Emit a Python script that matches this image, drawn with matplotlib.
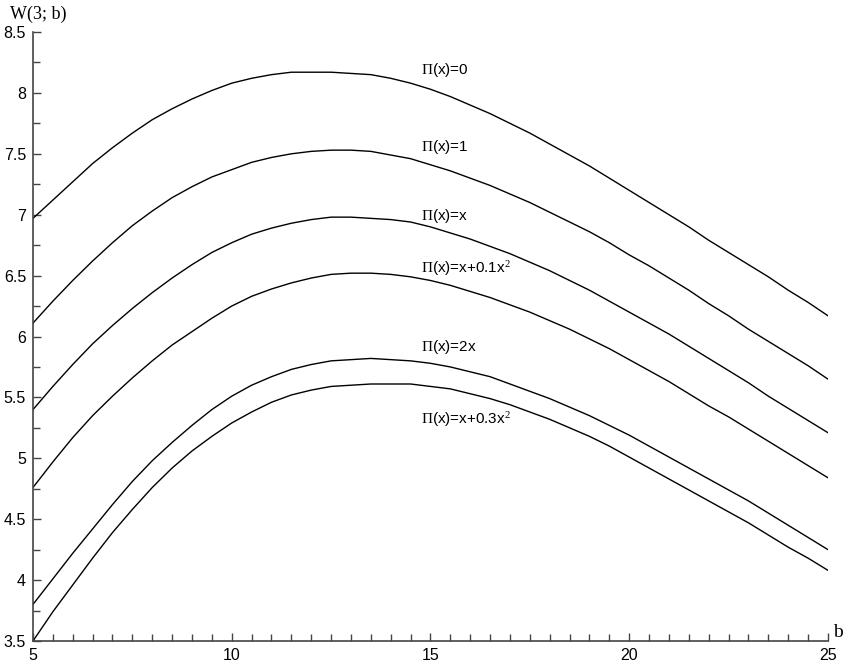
import matplotlib.pyplot as plt
from matplotlib.ticker import MultipleLocator

# DATA (every 0.5 in b)
b = [5, 5.5, 6, 6.5, 7, 7.5, 8, 8.5, 9, 9.5, 10, 10.5, 11, 11.5, 12, 12.5,
     13, 13.5, 14, 14.5, 15, 15.5, 16, 16.5, 17, 17.5, 18, 18.5, 19, 19.5,
     20, 20.5, 21, 21.5, 22, 22.5, 23, 23.5, 24, 24.5, 25]

w_zero = [6.97, 7.12, 7.27, 7.42, 7.55, 7.67, 7.78, 7.87, 7.95, 8.02, 8.08,
          8.12, 8.15, 8.17, 8.17, 8.17, 8.16, 8.15, 8.12, 8.08, 8.03, 7.97,
          7.90, 7.83, 7.75, 7.67, 7.58, 7.49, 7.40, 7.30, 7.20, 7.10, 7.00,
          6.90, 6.79, 6.69, 6.59, 6.49, 6.38, 6.28, 6.17]
w_one = [6.11, 6.29, 6.46, 6.62, 6.77, 6.91, 7.03, 7.14, 7.23, 7.31, 7.37,
         7.43, 7.47, 7.50, 7.52, 7.53, 7.53, 7.52, 7.49, 7.46, 7.41, 7.36,
         7.30, 7.24, 7.17, 7.10, 7.02, 6.94, 6.86, 6.77, 6.67, 6.58, 6.48,
         6.38, 6.27, 6.17, 6.06, 5.96, 5.86, 5.76, 5.65]
w_x = [5.40, 5.59, 5.77, 5.94, 6.09, 6.23, 6.36, 6.48, 6.59, 6.69, 6.77,
       6.84, 6.89, 6.93, 6.96, 6.98, 6.98, 6.97, 6.96, 6.94, 6.90, 6.85,
       6.80, 6.74, 6.68, 6.61, 6.54, 6.46, 6.38, 6.29, 6.20, 6.11, 6.02,
       5.92, 5.82, 5.72, 5.62, 5.51, 5.41, 5.31, 5.21]
w_x01 = [4.76, 4.97, 5.17, 5.35, 5.51, 5.66, 5.80, 5.93, 6.04, 6.15, 6.25,
         6.33, 6.39, 6.44, 6.48, 6.51, 6.52, 6.52, 6.51, 6.49, 6.46, 6.42,
         6.37, 6.32, 6.26, 6.20, 6.13, 6.06, 5.98, 5.90, 5.81, 5.72, 5.63,
         5.53, 5.43, 5.34, 5.24, 5.14, 5.04, 4.94, 4.84]
w_2x = [3.80, 4.01, 4.22, 4.42, 4.62, 4.81, 4.98, 5.13, 5.27, 5.40, 5.51,
        5.60, 5.67, 5.73, 5.77, 5.80, 5.81, 5.82, 5.81, 5.80, 5.78, 5.75,
        5.71, 5.67, 5.61, 5.55, 5.49, 5.42, 5.35, 5.27, 5.19, 5.10, 5.01,
        4.92, 4.83, 4.74, 4.65, 4.55, 4.45, 4.35, 4.25]
w_x03 = [3.50, 3.74, 3.96, 4.18, 4.39, 4.58, 4.76, 4.92, 5.06, 5.18, 5.29,
         5.38, 5.46, 5.52, 5.56, 5.59, 5.60, 5.61, 5.61, 5.61, 5.59, 5.57,
         5.53, 5.49, 5.44, 5.38, 5.32, 5.25, 5.18, 5.10, 5.01, 4.92, 4.83,
         4.74, 4.65, 4.56, 4.47, 4.37, 4.27, 4.18, 4.08]

series = [w_zero, w_one, w_x, w_x01, w_2x, w_x03]
labels = [r'$\Pi$(x)=0', r'$\Pi$(x)=1', r'$\Pi$(x)=x',
          r'$\Pi$(x)=x+0.1x$^2$', r'$\Pi$(x)=2x', r'$\Pi$(x)=x+0.3x$^2$']
label_b = 14.75
label_y = [8.19, 7.56, 6.99, 6.56, 5.91, 5.32]

plt.rcParams['font.family'] = 'Liberation Sans'
plt.rcParams['mathtext.fontset'] = 'custom'
plt.rcParams['mathtext.rm'] = 'Liberation Serif'
plt.rcParams['mathtext.it'] = 'Liberation Serif'

fig = plt.figure(figsize=(8.5, 6.67), dpi=100)
ax = fig.add_axes([0.0388, 0.039, 0.9353, 0.913])

for vals in series:
    ax.plot(b, vals, color='black', linewidth=1.0)

for txt, y in zip(labels, label_y):
    ax.text(label_b, y, txt, fontsize=11, va='center', ha='left')

ax.set_xlim(5, 25)
ax.set_ylim(3.5, 8.5)
ax.xaxis.set_major_locator(MultipleLocator(5))
ax.xaxis.set_minor_locator(MultipleLocator(0.5))
ax.yaxis.set_major_locator(MultipleLocator(0.5))
ax.yaxis.set_minor_locator(MultipleLocator(0.25))
ax.set_yticks([3.5, 4, 4.5, 5, 5.5, 6, 6.5, 7, 7.5, 8, 8.5])
ax.set_yticklabels(['3.5', '4', '4.5', '5', '5.5', '6', '6.5', '7', '7.5', '8', '8.5'])

ax.spines['top'].set_visible(False)
ax.spines['right'].set_visible(False)
for s in ['left', 'bottom']:
    ax.spines[s].set_color('#444444')
    ax.spines[s].set_linewidth(1.2)

ax.tick_params(which='both', direction='in', colors='#444444', labelcolor='black',
               labelsize=11.5, width=1.0)
ax.tick_params(which='major', length=6)
ax.tick_params(which='minor', length=5)
ax.tick_params(axis='y', pad=5)
ax.tick_params(axis='x', pad=5)

fig.text(0.045, 0.978, 'W(3; b)', family='Liberation Serif', fontsize=13,
         ha='center', va='center')
fig.text(0.992, 0.052, 'b', family='Liberation Serif', fontsize=14,
         ha='right', va='center')

fig.savefig('out.png', dpi=100)
